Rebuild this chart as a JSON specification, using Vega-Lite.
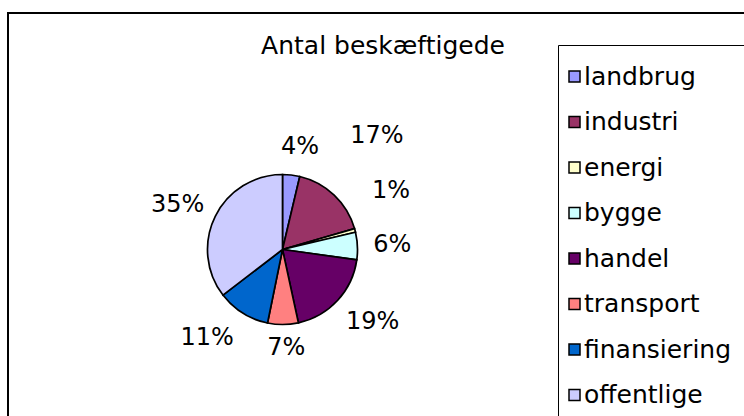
{
  "$schema": "https://vega.github.io/schema/vega-lite/v6.json",
  "width": 746,
  "height": 413,
  "autosize": {"type": "none"},
  "padding": {"left": 8, "top": 13, "right": -10, "bottom": -10},
  "background": "white",
  "config": {
    "style": {"view": {"stroke": "black", "strokeWidth": 2}},
    "view": {"stroke": "black", "strokeWidth": 2},
    "font": "DejaVu Sans",
    "text": {"font": "DejaVu Sans", "fontSize": 24, "color": "black"},
    "legend": {
      "orient": "none",
      "legendX": 550,
      "legendY": 32,
      "padding": 12,
      "strokeColor": "black",
      "strokeWidth": 1,
      "fillColor": "white",
      "titleFontSize": 5,
      "titlePadding": 2,
      "symbolType": "square",
      "symbolSize": 121,
      "symbolStrokeColor": "black",
      "symbolStrokeWidth": 1.5,
      "symbolOpacity": 1,
      "symbolOffset": -8,
      "labelFontSize": 25,
      "labelFont": "DejaVu Sans",
      "labelColor": "black",
      "labelOffset": -3,
      "rowPadding": 19.5,
      "labelLimit": 400
    }
  },
  "title": {
    "text": "Antal beskæftigede",
    "font": "DejaVu Sans",
    "fontSize": 25,
    "fontWeight": "normal",
    "color": "black",
    "anchor": "middle",
    "frame": "group",
    "offset": 0,
    "baseline": "alphabetic",
    "dx": 2,
    "dy": 66
  },
  "data": {
    "values": [
      {"nr": 1, "kategori": "landbrug", "andel": 0.037},
      {"nr": 2, "kategori": "industri", "andel": 0.168},
      {"nr": 3, "kategori": "energi", "andel": 0.008},
      {"nr": 4, "kategori": "bygge", "andel": 0.059},
      {"nr": 5, "kategori": "handel", "andel": 0.194},
      {"nr": 6, "kategori": "transport", "andel": 0.066},
      {"nr": 7, "kategori": "finansiering", "andel": 0.114},
      {"nr": 8, "kategori": "offentlige", "andel": 0.354}
    ]
  },
  "encoding": {
    "theta": {"field": "andel", "type": "quantitative", "stack": true},
    "order": {"field": "nr", "type": "quantitative"}
  },
  "layer": [
    {
      "mark": {"type": "arc", "outerRadius": 75, "x": 274.5, "y": 236.5, "stroke": "black", "strokeWidth": 1.7},
      "encoding": {
        "color": {
          "field": "kategori",
          "type": "nominal",
          "scale": {
            "domain": ["landbrug", "industri", "energi", "bygge", "handel", "transport", "finansiering", "offentlige"],
            "range": ["#9999FF", "#993366", "#FFFFCC", "#CCFFFF", "#660066", "#FF8080", "#0066CC", "#CCCCFF"]
          },
          "legend": {
            "title": "\u00a0",
            "labelExpr": "datum.label + '\u00a0\u00a0\u00a0\u00a0\u00a0\u00a0\u00a0\u00a0\u00a0\u00a0'"
          }
        }
      }
    },
    {
      "mark": {"type": "text", "radius": 108, "x": 274.5, "y": 236.5, "dx": 5, "dy": 5},
      "encoding": {
        "detail": {"field": "kategori", "type": "nominal"},
        "text": {"field": "andel", "type": "quantitative", "format": ".0%", "condition": {"test": "datum.kategori !== 'landbrug'", "value": ""}}
      }
    },
    {
      "mark": {"type": "text", "radius": 108, "x": 274.5, "y": 236.5, "dx": 20, "dy": -35},
      "encoding": {
        "detail": {"field": "kategori", "type": "nominal"},
        "text": {"field": "andel", "type": "quantitative", "format": ".0%", "condition": {"test": "datum.kategori !== 'industri'", "value": ""}}
      }
    },
    {
      "mark": {"type": "text", "radius": 108, "x": 274.5, "y": 236.5, "dx": 4, "dy": -31},
      "encoding": {
        "detail": {"field": "kategori", "type": "nominal"},
        "text": {"field": "andel", "type": "quantitative", "format": ".0%", "condition": {"test": "datum.kategori !== 'energi'", "value": ""}}
      }
    },
    {
      "mark": {"type": "text", "radius": 108, "x": 274.5, "y": 236.5, "dx": 2, "dy": 1},
      "encoding": {
        "detail": {"field": "kategori", "type": "nominal"},
        "text": {"field": "andel", "type": "quantitative", "format": ".0%", "condition": {"test": "datum.kategori !== 'bygge'", "value": ""}}
      }
    },
    {
      "mark": {"type": "text", "radius": 108, "x": 274.5, "y": 236.5, "dx": 11, "dy": -1},
      "encoding": {
        "detail": {"field": "kategori", "type": "nominal"},
        "text": {"field": "andel", "type": "quantitative", "format": ".0%", "condition": {"test": "datum.kategori !== 'handel'", "value": ""}}
      }
    },
    {
      "mark": {"type": "text", "radius": 108, "x": 274.5, "y": 236.5, "dx": 3, "dy": -9},
      "encoding": {
        "detail": {"field": "kategori", "type": "nominal"},
        "text": {"field": "andel", "type": "quantitative", "format": ".0%", "condition": {"test": "datum.kategori !== 'transport'", "value": ""}}
      }
    },
    {
      "mark": {"type": "text", "radius": 108, "x": 274.5, "y": 236.5, "dx": -18, "dy": -3},
      "encoding": {
        "detail": {"field": "kategori", "type": "nominal"},
        "text": {"field": "andel", "type": "quantitative", "format": ".0%", "condition": {"test": "datum.kategori !== 'finansiering'", "value": ""}}
      }
    },
    {
      "mark": {"type": "text", "radius": 108, "x": 274.5, "y": 236.5, "dx": -8, "dy": 3},
      "encoding": {
        "detail": {"field": "kategori", "type": "nominal"},
        "text": {"field": "andel", "type": "quantitative", "format": ".0%", "condition": {"test": "datum.kategori !== 'offentlige'", "value": ""}}
      }
    }
  ]
}
